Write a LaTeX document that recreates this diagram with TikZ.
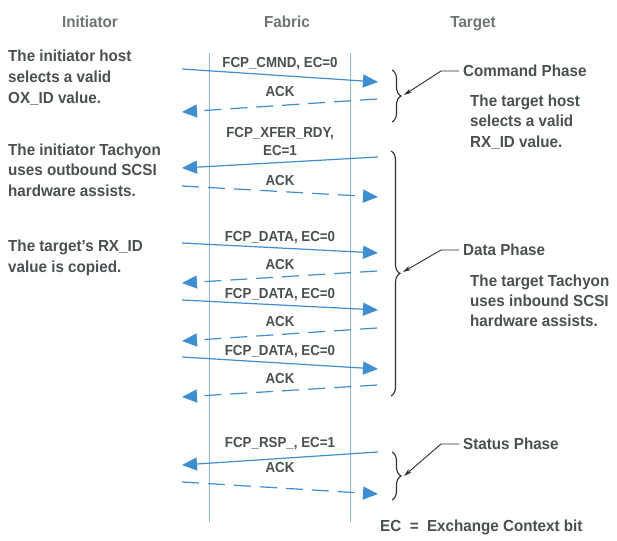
\documentclass[tikz,border=0pt]{standalone}
\usepackage{fontspec}
\setmainfont{Liberation Sans}[FakeStretch=0.95]
\newfontfamily\labfont{Liberation Sans}[FakeStretch=0.92]
\usetikzlibrary{arrows.meta,decorations.pathreplacing}
\definecolor{txt}{RGB}{72,80,82}
\definecolor{hdr}{RGB}{108,116,116}
\definecolor{arr}{RGB}{62,142,208}
\definecolor{vline}{RGB}{140,185,225}
\definecolor{brc}{RGB}{45,45,45}
\begin{document}
\begin{tikzpicture}[x=1pt,y=-1pt,
  body/.style={font=\fontsize{16}{20}\selectfont\bfseries, text=txt, anchor=base west, inner sep=0pt},
  phase/.style={font=\fontsize{16}{20}\selectfont\bfseries, text=txt, anchor=west, inner sep=0pt},
  header/.style={font=\fontsize{16}{20}\selectfont\bfseries, text=hdr, anchor=base, inner sep=0pt},
  lab/.style={font=\labfont\fontsize{14.5}{18}\selectfont\bfseries, text=txt, anchor=base, inner sep=0pt},
  msg/.style={draw=arr, line width=1.2pt, -{Triangle[length=15pt,width=13pt,fill=arr]}},
  ack/.style={msg, dash pattern=on 17pt off 9pt},
  fabline/.style={draw=vline, line width=1pt},
  phbrace/.style={draw=brc, line width=1.1pt, decorate, decoration={brace, amplitude=9pt}},
  ptr/.style={draw=brc, line width=0.9pt, -{Stealth[length=8pt,width=4.5pt]}}
]
\useasboundingbox (0,0) rectangle (617,540);

% headers
\node[header] (hI) at (90,28) {Initiator};
\node[header] (hF) at (287,28) {Fabric};
\node[header] (hT) at (473,28) {Target};

% fabric lines
\coordinate (fl1) at (209,53);
\coordinate (fl2) at (209,522);
\coordinate (fr1) at (350,53);
\coordinate (fr2) at (350,522);
\draw[fabline] (fl1) -- (fl2);
\draw[fabline] (fr1) -- (fr2);

% left notes
\node[body] (l1a) at (8,62) {The initiator host};
\node[body] (l1b) at (8,83) {selects a valid};
\node[body] (l1c) at (8,104) {OX\_ID value.};
\node[body] (l2a) at (8,155) {The initiator Tachyon};
\node[body] (l2b) at (8,175) {uses outbound SCSI};
\node[body] (l2c) at (8,196) {hardware assists.};
\node[body] (l3a) at (8,251) {The target's RX\_ID};
\node[body] (l3b) at (8,272) {value is copied.};

% right notes
\node[phase] (cp) at (463,71) {Command Phase};
\node[body] (r1a) at (470,107) {The target host};
\node[body] (r1b) at (470,127) {selects a valid};
\node[body] (r1c) at (470,147) {RX\_ID value.};
\node[phase] (dp) at (463,250) {Data Phase};
\node[body] (r2a) at (470,286) {The target Tachyon};
\node[body] (r2b) at (470,306) {uses inbound SCSI};
\node[body] (r2c) at (470,326) {hardware assists.};
\node[phase] (sp) at (463,444) {Status Phase};
\node[body] (ec) at (380,531) {EC\ \ =\ \ Exchange Context bit};

% message endpoints
\coordinate (a1s) at (182,69);  \coordinate (a1e) at (378,82);
\coordinate (a2s) at (377,99);  \coordinate (a2e) at (182,112);
\coordinate (a3s) at (378,157); \coordinate (a3e) at (182,168);
\coordinate (a4s) at (182,186); \coordinate (a4e) at (378,197);
\coordinate (a5s) at (182,243); \coordinate (a5e) at (378,253);
\coordinate (a6s) at (377,271); \coordinate (a6e) at (182,283);
\coordinate (a7s) at (182,300); \coordinate (a7e) at (378,310);
\coordinate (a8s) at (377,328); \coordinate (a8e) at (182,341);
\coordinate (a9s) at (182,357); \coordinate (a9e) at (378,369);
\coordinate (a10s) at (377,385); \coordinate (a10e) at (182,397);
\coordinate (a11s) at (378,452); \coordinate (a11e) at (182,465);
\coordinate (a12s) at (182,482); \coordinate (a12e) at (378,494);

\draw[msg] (a1s) -- (a1e);
\draw[ack] (a2s) -- (a2e);
\draw[msg] (a3s) -- (a3e);
\draw[ack] (a4s) -- (a4e);
\draw[msg] (a5s) -- (a5e);
\draw[ack] (a6s) -- (a6e);
\draw[msg] (a7s) -- (a7e);
\draw[ack] (a8s) -- (a8e);
\draw[msg] (a9s) -- (a9e);
\draw[ack] (a10s) -- (a10e);
\draw[msg] (a11s) -- (a11e);
\draw[ack] (a12s) -- (a12e);

% message labels
\node[lab] (m1) at (280,68) {FCP\_CMND, EC=0};
\node[lab] (m2) at (280,97) {ACK};
\node[lab] (m3a) at (280,138) {FCP\_XFER\_RDY,};
\node[lab] (m3b) at (280,155) {EC=1};
\node[lab] (m4) at (280,185) {ACK};
\node[lab] (m5) at (280,241) {FCP\_DATA, EC=0};
\node[lab] (m6) at (280,269) {ACK};
\node[lab] (m7) at (280,298) {FCP\_DATA, EC=0};
\node[lab] (m8) at (280,326) {ACK};
\node[lab] (m9) at (280,355) {FCP\_DATA, EC=0};
\node[lab] (m10) at (280,383) {ACK};
\node[lab] (m11) at (280,447) {FCP\_RSP\_, EC=1};
\node[lab] (m12) at (280,472) {ACK};

% braces
\coordinate (cb1) at (392,70);  \coordinate (cb2) at (392,122);
\coordinate (db1) at (391,151); \coordinate (db2) at (391,396);
\coordinate (sb1) at (392,452); \coordinate (sb2) at (392,500);
\draw[phbrace] (cb1) -- (cb2);
\draw[phbrace] (db1) -- (db2);
\draw[phbrace] (sb1) -- (sb2);

% pointers
\coordinate (cbt) at (404,95);
\coordinate (dbt) at (403,272);
\coordinate (sbt) at (404,476);
\draw[ptr] ([xshift=-4pt]cp.west) -- ++(-18,0) -- (cbt);
\draw[ptr] ([xshift=-4pt]dp.west) -- ++(-18,0) -- (dbt);
\draw[ptr] ([xshift=-4pt]sp.west) -- ++(-18,0) -- (sbt);
\end{tikzpicture}
\end{document}
